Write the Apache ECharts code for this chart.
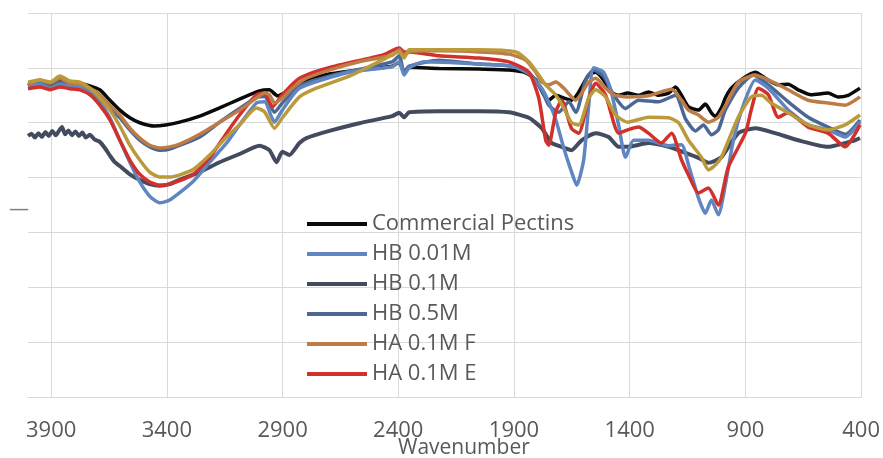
<!DOCTYPE html>
<html>
<head>
<meta charset="utf-8">
<script src="https://cdn.jsdelivr.net/npm/echarts@6/dist/echarts.min.js"></script>
<style>
  html, body { margin: 0; padding: 0; background: #ffffff; }
  #chart { width: 883px; height: 458px; }
</style>
</head>
<body>
<div id="chart"></div>
<script>
// FTIR spectra: [wavenumber (cm-1), transmittance (a.u.)]
const commercialPectins = [
  [4000,56.7],[3948,57.4],[3905,56.7],[3862,57.8],[3819,56.9],[3776,57.2],[3733,56.7],[3690,56.0],
  [3646,54.1],[3603,52.3],[3560,50.9],[3517,50.0],[3453,49.4],[3405,49.6],[3345,50.1],[3258,51.2],
  [3172,52.7],[3086,54.3],[3000,55.8],[2957,56.0],[2922,54.9],[2871,56.0],[2797,57.8],[2698,58.9],
  [2569,59.6],[2427,60.3],[2396,61.0],[2375,59.2],[2353,60.1],[2224,59.9],[2051,59.8],[1922,59.6],
  [1849,59.1],[1806,57.8],[1771,55.1],[1750,54.1],[1719,55.0],[1685,54.5],[1651,54.1],[1620,55.6],
  [1577,58.7],[1547,59.2],[1513,57.8],[1482,55.6],[1448,55.0],[1409,55.4],[1362,55.0],[1319,55.6],
  [1276,55.0],[1232,55.4],[1202,56.5],[1176,55.0],[1146,52.9],[1103,52.3],[1073,53.4],[1047,51.8],
  [1030,51.2],[1004,52.7],[987,54.5],[961,56.3],[909,58.1],[857,59.2],[814,58.1],[758,56.9],
  [715,57.0],[672,56.0],[616,55.1],[543,55.4],[500,54.7],[456,55.0],[405,56.3]
];
const hb001M = [
  [4000,56.7],[3948,57.0],[3905,56.3],[3862,57.0],[3819,56.7],[3776,56.5],[3733,55.6],[3690,53.8],
  [3646,50.9],[3603,46.8],[3560,42.8],[3517,39.2],[3474,36.6],[3431,35.4],[3388,35.9],[3289,39.2],
  [3215,42.8],[3142,46.3],[3086,49.6],[3013,53.6],[2978,53.8],[2935,50.1],[2901,52.3],[2827,56.3],
  [2612,59.2],[2427,60.2],[2396,61.1],[2375,58.7],[2353,60.0],[2289,61.1],[2051,60.7],[1909,60.3],
  [1836,58.9],[1780,56.3],[1750,53.8],[1719,50.5],[1685,45.4],[1651,41.0],[1629,38.6],[1599,43.2],
  [1577,53.2],[1556,60.0],[1513,59.2],[1482,56.0],[1448,49.6],[1418,43.7],[1383,46.8],[1319,46.8],
  [1232,45.8],[1176,46.0],[1146,42.3],[1103,36.3],[1073,33.5],[1047,35.9],[1017,33.2],[987,38.6],
  [952,46.8],[909,53.2],[857,57.8],[801,56.3],[715,52.3],[629,49.6],[543,48.7],[469,47.4],[405,50.1]
];
const hb01M = [
  [4000,47.6],[3985,48.0],[3970,47.3],[3955,48.1],[3940,47.4],[3925,48.3],[3910,47.6],[3895,48.5],
  [3880,47.7],[3865,48.6],[3853,49.2],[3840,47.9],[3825,48.6],[3810,47.7],[3795,48.4],[3780,47.6],
  [3765,48.2],[3750,47.3],[3733,47.8],[3711,46.9],[3690,46.5],
  [3668,45.4],[3646,44.0],[3625,42.8],[3603,42.1],[3560,40.6],[3517,39.6],[3474,38.8],[3431,38.5],
  [3388,38.8],[3345,39.6],[3258,41.0],[3172,42.8],[3086,44.3],[3000,45.8],[2957,45.0],[2926,42.8],
  [2901,44.7],[2871,44.1],[2827,46.3],[2797,47.2],[2698,48.5],[2569,49.9],[2427,51.2],[2396,51.8],
  [2375,51.0],[2353,51.9],[2224,52.1],[2051,52.1],[1922,51.9],[1836,50.9],[1780,49.0],[1737,46.3],
  [1694,45.6],[1651,45.0],[1608,46.8],[1547,48.1],[1491,47.4],[1448,45.6],[1409,45.6],[1319,46.3],
  [1232,45.6],[1159,44.5],[1103,43.6],[1060,42.7],[1004,43.7],[931,48.1],[857,49.0],[771,48.1],
  [672,46.8],[543,45.6],[426,46.8],[405,47.2]
];
const hb05M = [
  [4000,56.9],[3948,57.2],[3905,56.5],[3862,57.4],[3819,56.9],[3776,56.7],[3733,56.0],[3690,54.6],
  [3646,52.6],[3603,50.9],[3560,48.7],[3517,46.8],[3474,45.6],[3431,45.0],[3388,45.2],[3258,47.4],
  [3172,50.1],[3086,52.6],[3013,54.6],[2978,54.8],[2935,51.9],[2901,53.6],[2827,56.7],[2698,58.5],
  [2427,61.1],[2396,62.2],[2375,59.2],[2353,60.3],[2224,61.4],[2051,60.7],[1909,60.3],[1836,59.2],
  [1780,55.9],[1750,53.2],[1707,51.9],[1663,53.8],[1633,51.9],[1590,57.8],[1556,59.6],[1513,58.5],
  [1470,55.1],[1418,52.6],[1362,54.1],[1276,53.8],[1202,55.0],[1159,50.7],[1116,48.5],[1081,49.6],
  [1047,47.8],[1017,48.7],[987,52.3],[931,56.3],[866,58.7],[801,56.9],[715,53.8],[629,51.0],
  [543,49.2],[469,47.9],[405,50.5]
];
const ha01MF = [
  [4000,57.0],[3948,57.8],[3905,57.2],[3862,58.1],[3819,57.2],[3776,57.0],[3733,56.3],[3690,55.1],
  [3646,53.2],[3603,51.4],[3560,49.0],[3517,47.2],[3474,45.9],[3431,45.4],[3388,45.6],[3345,46.1],
  [3258,47.9],[3172,50.1],[3086,52.3],[3013,54.5],[2978,55.4],[2957,55.1],[2935,53.6],[2901,54.5],
  [2858,56.3],[2797,58.1],[2698,59.6],[2569,61.1],[2427,62.3],[2396,63.3],[2375,62.2],[2353,62.9],
  [2224,63.1],[2051,62.9],[1922,62.5],[1849,61.4],[1806,59.2],[1780,57.4],[1750,56.9],[1719,57.4],
  [1685,56.3],[1633,54.1],[1577,57.4],[1547,58.1],[1504,56.3],[1470,55.1],[1409,54.7],[1319,54.9],
  [1219,56.1],[1176,54.1],[1146,52.3],[1103,51.4],[1060,50.1],[1017,51.0],[974,54.1],[931,57.4],
  [857,58.7],[771,57.2],[715,56.0],[629,54.1],[543,53.6],[469,53.2],[405,54.7]
];
const ha01ME = [
  [4000,56.2],[3948,56.5],[3905,56.0],[3862,56.5],[3819,56.2],[3776,56.0],[3733,55.1],[3690,53.2],
  [3646,50.5],[3603,46.8],[3560,43.2],[3517,40.6],[3474,39.2],[3431,38.6],[3388,38.8],[3289,40.5],
  [3215,43.6],[3142,48.1],[3086,51.4],[3013,55.1],[2978,55.4],[2944,52.9],[2901,55.1],[2827,58.1],
  [2685,60.2],[2470,62.3],[2396,63.6],[2375,62.9],[2353,62.9],[2224,62.2],[2051,61.8],[1922,61.1],
  [1836,59.2],[1793,54.5],[1763,46.8],[1750,45.9],[1719,52.0],[1694,54.1],[1651,48.9],[1620,48.1],
  [1577,54.5],[1547,57.2],[1504,55.0],[1448,48.1],[1409,48.7],[1362,49.2],[1319,48.1],[1263,46.3],
  [1219,48.1],[1176,43.2],[1146,40.5],[1103,37.2],[1060,38.1],[1017,35.0],[974,41.9],[900,48.1],
  [875,52.3],[844,56.3],[801,55.1],[758,51.0],[715,51.8],[629,49.2],[543,48.1],[469,45.6],[405,49.6]
];
const haSample = [
  [4000,57.4],[3948,57.8],[3905,57.4],[3862,58.5],[3819,57.6],[3776,57.4],[3733,56.3],[3690,54.6],
  [3646,52.3],[3603,49.4],[3560,45.9],[3517,43.2],[3474,41.0],[3431,40.1],[3388,40.1],[3289,41.4],
  [3215,44.1],[3142,47.4],[3086,49.6],[3013,52.7],[2978,52.0],[2935,49.0],[2901,50.9],[2827,54.7],
  [2754,56.3],[2612,58.5],[2470,61.4],[2396,62.9],[2375,61.8],[2353,63.3],[2224,63.3],[2051,63.3],
  [1892,62.9],[1836,61.1],[1793,58.7],[1763,56.9],[1719,55.0],[1685,52.7],[1651,50.0],[1620,49.6],
  [1577,54.5],[1547,56.0],[1504,54.7],[1461,51.4],[1409,50.1],[1319,51.0],[1232,50.9],[1189,50.0],
  [1146,46.8],[1090,43.7],[1060,41.4],[1030,42.3],[1004,43.7],[931,51.0],[875,54.7],[832,55.0],
  [789,53.6],[715,51.8],[629,49.6],[543,48.7],[469,49.6],[405,51.4]
];

const legendNames = ['Commercial Pectins', 'HB 0.01M', 'HB 0.1M', 'HB 0.5M', 'HA 0.1M F', 'HA 0.1M E'];
const xTicks = { min: 400, max: 4000, step: 500 };

const FONT = '"Open Sans", sans-serif';
const TEXT = '#595959';
const GRID = '#d9d9d9';

function spectrum(name, data, color, width) {
  return {
    name: name,
    type: 'line',
    data: data,
    showSymbol: false,
    symbol: 'none',
    smooth: 0.2,
    lineStyle: { color: color, width: width || 3.5 },
    itemStyle: { color: color },
    emphasis: { disabled: true },
    animation: false
  };
}

const chart = echarts.init(document.getElementById('chart'), null, { renderer: 'canvas' });
chart.setOption({
  backgroundColor: '#ffffff',
  animation: false,
  grid: { left: 28, right: 20, top: 13, bottom: 61, containLabel: false },
  xAxis: {
    type: 'value',
    inverse: true,
    min: xTicks.min,
    max: xTicks.max,
    interval: xTicks.step,
    axisLine: { show: true, lineStyle: { color: GRID, width: 1 } },
    axisTick: { show: false },
    axisLabel: {
      color: TEXT, fontFamily: FONT, fontSize: 22, margin: 23,
      showMaxLabel: false, showMinLabel: true,
      formatter: function (v) { return String(v); }
    },
    splitLine: { show: true, showMaxLine: false, lineStyle: { color: GRID, width: 1 } }
  },
  yAxis: {
    type: 'value',
    min: 0,
    max: 70,
    interval: 10,
    axisLine: { show: false },
    axisTick: { show: false },
    axisLabel: { show: false },
    splitLine: { show: true, lineStyle: { color: GRID, width: 1 } }
  },
  legend: {
    data: legendNames,
    orient: 'vertical',
    left: 302,
    top: 207,
    icon: 'rect',
    itemWidth: 60,
    itemHeight: 4,
    itemGap: 6,
    textStyle: { color: TEXT, fontFamily: FONT, fontSize: 22, lineHeight: 24 },
    selectedMode: false
  },
  graphic: [
    {
      type: 'text', left: 398, top: 438,
      style: { text: 'Wavenumber', fill: TEXT, font: '21px ' + FONT }
    },
    {
      type: 'text', left: 9, top: 199,
      style: { text: '—', fill: '#7f7f7f', font: '20px ' + FONT }
    }
  ],
  series: [
    spectrum('HB 0.1M', hb01M, '#434c5e', 4),
    spectrum('Commercial Pectins', commercialPectins, '#0a0a0a'),
    spectrum('HB 0.5M', hb05M, '#4d6795'),
    spectrum('HB 0.01M', hb001M, '#5f86c0'),
    spectrum('HA 0.1M E', ha01ME, '#d2302a'),
    spectrum('HA 0.1M F', ha01MF, '#bd7c46'),
    spectrum('HA sample', haSample, '#bb9a3c')
  ]
});
</script>
</body>
</html>
